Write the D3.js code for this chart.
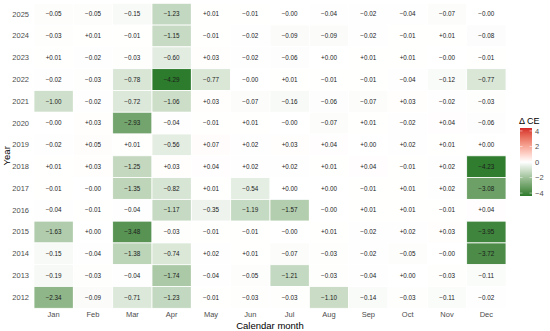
<!DOCTYPE html>
<html>
<head>
<meta charset="utf-8">
<script src="https://cdn.jsdelivr.net/npm/d3@7"></script>
<style>
  body { margin: 0; background: #fff; }
  svg { font-family: "Liberation Sans", Arial, sans-serif; }
</style>
</head>
<body>
<div id="chart"></div>
<script>
// months along x, years along y (top = 2025)
var months = ["Jan", "Feb", "Mar", "Apr", "May", "Jun", "Jul", "Aug", "Sep", "Oct", "Nov", "Dec"];
var years = [2025, 2024, 2023, 2022, 2021, 2020, 2019, 2018, 2017, 2016, 2015, 2014, 2013, 2012];

// change in CE per year, Jan..Dec (tiny +/-0.004 shown as +0.00 / -0.00)
var y2025 = [-0.05, -0.05, -0.15, -1.23, 0.01, -0.01, -0.004, -0.04, -0.02, -0.04, -0.07, -0.004];
var y2024 = [-0.03, 0.01, -0.01, -1.15, -0.01, -0.02, -0.09, -0.09, -0.02, -0.01, 0.01, -0.08];
var y2023 = [0.01, -0.02, -0.03, -0.60, 0.03, -0.02, -0.06, 0.004, 0.01, 0.01, -0.004, -0.01];
var y2022 = [-0.02, -0.03, -0.78, -4.29, -0.77, -0.004, 0.01, -0.01, -0.01, -0.04, -0.12, -0.77];
var y2021 = [-1.00, -0.02, -0.72, -1.06, 0.03, -0.07, -0.16, -0.06, -0.07, 0.03, -0.02, -0.03];
var y2020 = [-0.004, 0.03, -2.93, -0.04, -0.01, 0.01, -0.004, -0.07, 0.01, -0.02, 0.04, -0.06];
var y2019 = [-0.02, 0.05, 0.01, -0.56, 0.07, 0.02, 0.03, 0.04, 0.004, 0.02, 0.01, 0.004];
var y2018 = [0.01, 0.03, -1.25, 0.03, 0.04, 0.02, 0.02, 0.01, 0.04, -0.01, 0.02, -4.23];
var y2017 = [-0.01, -0.004, -1.35, -0.82, 0.01, -0.54, 0.004, 0.004, -0.01, 0.01, 0.02, -3.08];
var y2016 = [-0.04, -0.01, -0.04, -1.17, -0.35, -1.19, -1.57, -0.004, 0.01, 0.01, -0.01, 0.04];
var y2015 = [-1.63, 0.004, -3.48, -0.03, -0.01, -0.01, -0.004, 0.01, -0.02, 0.02, 0.03, -3.95];
var y2014 = [-0.15, -0.04, -1.38, -0.74, 0.02, 0.01, -0.07, -0.03, -0.02, -0.05, -0.004, -3.72];
var y2013 = [-0.19, -0.03, -0.04, -1.74, -0.04, -0.05, -1.21, -0.03, -0.04, 0.004, -0.03, -0.11];
var y2012 = [-2.34, -0.09, -0.71, -1.23, -0.01, -0.03, -0.03, -1.10, -0.14, -0.03, -0.11, -0.02];

var rows = [y2025, y2024, y2023, y2022, y2021, y2020, y2019, y2018, y2017, y2016, y2015, y2014, y2013, y2012];
var legendTicks = [4, 2, 0, -2, -4];

var cells = [];
years.forEach(function(yr, i) {
  rows[i].forEach(function(v, j) {
    cells.push({ year: yr, month: months[j], value: v });
  });
});

var width = 550, height = 331;
var margin = { top: 3.3, right: 44, bottom: 22.7, left: 34 };
var w = width - margin.left - margin.right,
    h = height - margin.top - margin.bottom;

var svg = d3.select("#chart").append("svg")
    .attr("width", width)
    .attr("height", height);

var g = svg.append("g")
    .attr("transform", "translate(" + margin.left + "," + margin.top + ")");

var x = d3.scaleBand().domain(months).range([0, w]);
var y = d3.scaleBand().domain(years).range([0, h]);

var lim = d3.max(cells, function(d) { return Math.abs(d.value); });
var color = d3.scaleLinear()
    .domain([-lim, 0, lim])
    .range(["#2d7b2d", "#ffffff", "#d42a2a"])
    .interpolate(d3.interpolateLab);

g.selectAll("rect.cell")
  .data(cells)
  .enter().append("rect")
    .attr("class", "cell")
    .attr("x", function(d) { return x(d.month); })
    .attr("y", function(d) { return y(d.year); })
    .attr("width", x.bandwidth())
    .attr("height", y.bandwidth())
    .attr("fill", function(d) { return color(d.value); })
    .attr("stroke", "#fff")
    .attr("stroke-width", 0.8);

var fmt = function(v) {
  var s = Math.abs(v).toFixed(2);
  return (v < 0 ? "\u2212" : "+") + s;
};

g.selectAll("text.lab")
  .data(cells)
  .enter().append("text")
    .attr("class", "lab")
    .attr("x", function(d) { return x(d.month) + x.bandwidth() / 2; })
    .attr("y", function(d) { return y(d.year) + y.bandwidth() / 2; })
    .attr("dy", "0.35em")
    .attr("text-anchor", "middle")
    .attr("font-size", "6.3px")
    .attr("fill", "#1a1a1a")
    .text(function(d) { return fmt(d.value); });

// axes without lines
var xAxis = g.append("g")
    .attr("transform", "translate(0," + h + ")")
    .call(d3.axisBottom(x).tickSize(0).tickPadding(3));
var yAxis = g.append("g")
    .call(d3.axisLeft(y).tickSize(0).tickPadding(5));
[xAxis, yAxis].forEach(function(a) {
  a.select(".domain").remove();
  a.selectAll("text")
    .attr("font-size", "7.5px")
    .attr("fill", "#4d4d4d")
    .attr("font-family", "Liberation Sans, Arial, sans-serif");
});

svg.append("text")
    .attr("x", margin.left + w / 2)
    .attr("y", 328.5)
    .attr("text-anchor", "middle")
    .attr("font-size", "9.5px")
    .attr("fill", "#000")
    .text("Calendar month");

svg.append("text")
    .attr("transform", "translate(10," + (margin.top + h / 2) + ") rotate(-90)")
    .attr("text-anchor", "middle")
    .attr("font-size", "9.5px")
    .attr("fill", "#000")
    .text("Year");

// legend colourbar
var lx = 520, ly = 128, lw = 12, lh = 68;
var ls = d3.scaleLinear().domain([-lim * 1.02, lim * 1.02]).range([ly + lh, ly]);

var defs = svg.append("defs");
var grad = defs.append("linearGradient")
    .attr("id", "cegrad")
    .attr("x1", "0").attr("y1", "1").attr("x2", "0").attr("y2", "0");
d3.range(0, 1.0001, 0.05).forEach(function(t) {
  grad.append("stop")
    .attr("offset", t)
    .attr("stop-color", color(-lim + 2 * lim * t));
});

svg.append("rect")
    .attr("x", lx).attr("y", ly)
    .attr("width", lw).attr("height", lh)
    .attr("fill", "url(#cegrad)");

svg.append("text")
    .attr("x", lx - 1)
    .attr("y", ly - 4)
    .attr("font-size", "9px")
    .attr("fill", "#000")
    .text("\u0394 CE");

legendTicks.forEach(function(t) {
  svg.append("line")
    .attr("x1", lx).attr("x2", lx + 2.5)
    .attr("y1", ls(t)).attr("y2", ls(t))
    .attr("stroke", "#fff").attr("stroke-width", 0.5);
  svg.append("line")
    .attr("x1", lx + lw - 2.5).attr("x2", lx + lw)
    .attr("y1", ls(t)).attr("y2", ls(t))
    .attr("stroke", "#fff").attr("stroke-width", 0.5);
  svg.append("text")
    .attr("x", lx + lw + 3)
    .attr("y", ls(t))
    .attr("dy", "0.35em")
    .attr("font-size", "7.5px")
    .attr("fill", "#4d4d4d")
    .text(t < 0 ? "\u2212" + Math.abs(t) : t);
});
</script>
</body>
</html>
